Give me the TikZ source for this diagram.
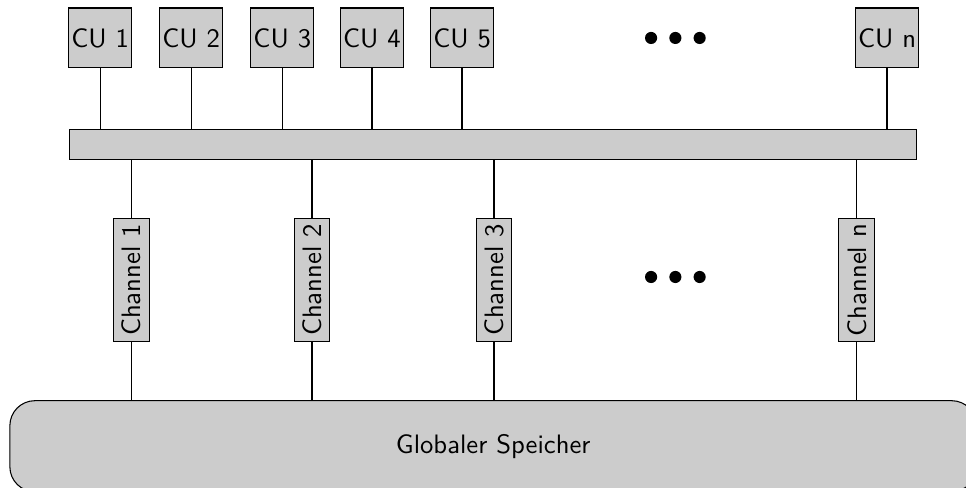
\documentclass[tikz,border=0pt]{standalone}
\usepackage{tikz}
\usetikzlibrary{positioning, calc}
\renewcommand{\familydefault}{\sfdefault}
\tikzset{unit/.style={rectangle,draw,fill=black!20,minimum width=0.8cm,minimum height=0.79cm,inner sep=1pt},
         bus/.style={rectangle,draw,fill=black!20,minimum width=11.16cm,minimum height=0.395cm},
         channel/.style={rectangle,draw,fill=black!20,rotate=90,minimum width=1.61cm,minimum height=0.47cm,inner sep=1pt},
         memory/.style={rectangle,draw,fill=black!20,rounded corners=0.33cm,minimum width=12.74cm,minimum height=1.20cm},
         link/.style={draw,line width=0.5pt}}

\begin{document}
\begin{tikzpicture}
    \useasboundingbox (0,0) rectangle (12.73,-6.43);
    % compute units on top
    \foreach \n/\x in {1/1.32,2/2.52,3/3.72,4/4.90,5/6.09}
        \node (cu\n) [unit] at (\x,-0.50) {CU \n};
    \node (cun) [unit] at (11.69,-0.50) {CU n};
    \node (bus) [bus] at (6.50,-1.90) {};
    % memory channels
    \foreach \n/\x in {1/1.73,2/4.11,3/6.51,n/11.29}
        \node (ch\n) [channel] at (\x,-3.69) {Channel \n};
    % memory runs past the right and bottom edge
    \node (mem) [memory] at (6.50,-5.88) {Globaler Speicher};
    \foreach \i in {1,2,3,4,5,n} {\draw[link] (cu\i) -- (cu\i |- bus.north);}
    \foreach \i in {1,2,3,n} {
        \draw[link] (bus.south -| ch\i) -- (ch\i.east);
        \draw[link] (ch\i.west) -- (ch\i |- mem.north);
    }
    % dots
    \foreach \y in {-0.50,-3.65}
        \foreach \x in {8.58,8.90,9.22}
            \fill (\x,\y) circle (0.08);
\end{tikzpicture}
\end{document}
